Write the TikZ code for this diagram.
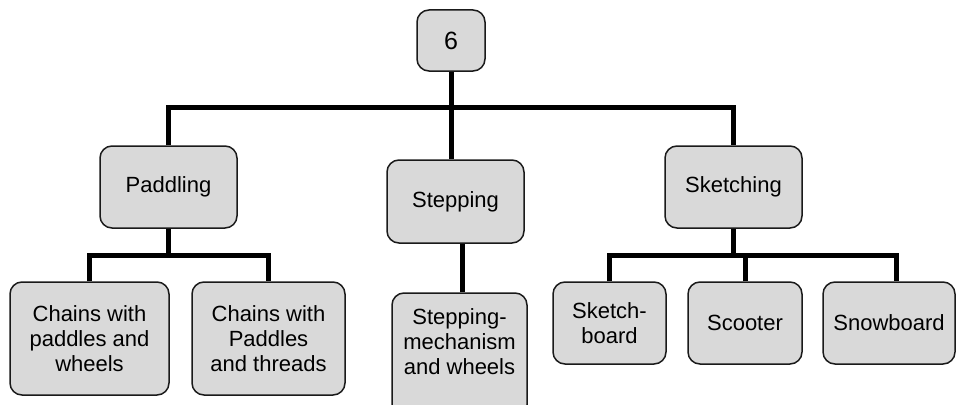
\documentclass[tikz,border=0pt]{standalone}
\usepackage{fontspec}
\setmainfont{Liberation Sans}
\definecolor{boxfill}{HTML}{D9D9D9}
\definecolor{boxline}{HTML}{1A1A1A}
\begin{document}
\begin{tikzpicture}[x=1pt,y=-1pt,
  box/.style={draw=boxline,line width=1.5pt,fill=boxfill,rounded corners=12pt,
    align=center,inner sep=0pt,font=\fontsize{22}{25}\selectfont},
  conn/.style={line width=5pt,line join=miter,draw=black}]
\useasboundingbox (0,0) rectangle (957,404);
% nodes
\node[box,minimum width=68pt,minimum height=61pt,font=\fontsize{25}{28}\selectfont] (top) at (451,40.5) {6};
\node[box,minimum width=137pt,minimum height=82pt] (padd) at (168.5,187) {Paddling};
\node[box,minimum width=137pt,minimum height=83pt] (step) at (455.5,201.5) {Stepping};
\node[box,minimum width=137pt,minimum height=82pt] (sketch) at (733.5,187) {Sketching};
\node[box,minimum width=159pt,minimum height=113pt] (c1) at (89.5,338.5) {Chains with\\paddles and\\wheels};
\node[box,minimum width=153pt,minimum height=113pt] (c2) at (268.5,338.5) {Chains with\\Paddles\\and threads};
\node[box,minimum width=135pt,minimum height=124pt,text depth=26pt] (sm) at (459.5,355) {Stepping-\\mechanism\\and wheels};
\node[box,minimum width=113pt,minimum height=82pt] (sb) at (609.5,323) {Sketch-\\board};
\node[box,minimum width=114pt,minimum height=82pt] (sc) at (745,323) {Scooter};
\node[box,minimum width=132pt,minimum height=82pt] (sn) at (889,323) {Snowboard};
% bar levels
\coordinate (b1) at (0,107);
\coordinate (b2) at (0,255);
% connectors
\draw[conn] (top.south) -- (top.south |- step.north);
\draw[conn] (padd.north) |- (sketch.north |- b1) -- (sketch.north);
\draw[conn] (padd.south) -- (padd.south |- b2);
\draw[conn] (c1.north) |- (c2.north |- b2) -- (c2.north);
\draw[conn] ([xshift=2.5pt]sm.north) -- ([xshift=2.5pt]sm.north |- step.south);
\draw[conn] (sketch.south) -- (sketch.south |- b2);
\draw[conn] (sb.north) |- ([xshift=7pt]sn.north |- b2) -- ([xshift=7pt]sn.north);
\draw[conn] (sc.north) -- (sc.north |- b2);
\end{tikzpicture}
\end{document}
